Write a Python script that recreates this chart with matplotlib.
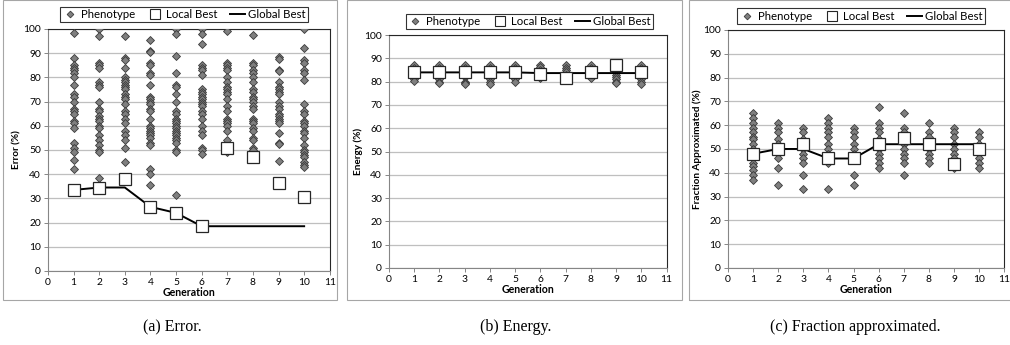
import matplotlib
matplotlib.use("Agg")
import matplotlib.pyplot as plt
from matplotlib.patches import Rectangle
from matplotlib.lines import Line2D

plt.rcParams["font.family"] = ["Lato", "DejaVu Sans"]

generations = [1, 2, 3, 4, 5, 6, 7, 8, 9, 10]

# ---- (a) Error ----
error_pheno = [
    [98.5, 88, 85, 84, 83, 82, 80, 77, 73, 72, 70, 67, 66, 65, 62, 61, 59, 53, 51, 49, 46, 42],
    [100, 97, 86, 85, 84, 78, 77, 76, 70, 67, 66, 64, 63, 62, 60, 59, 56, 54, 52, 50, 49, 38.5],
    [97, 88, 87, 84, 80, 79, 78, 77, 76, 75, 73, 72, 71, 69, 66, 65, 63, 61, 58, 56, 54, 51, 45],
    [95.5, 91, 90.5, 86, 85, 82, 81, 77, 72, 71, 70, 69, 67, 66, 63, 60, 59, 58, 57, 56, 55, 53,
     52, 42, 40, 35.5],
    [100, 98, 89, 82, 77, 76, 73, 70, 66, 65, 63, 62, 61, 60, 59, 58, 57, 56, 55, 54, 53, 50, 49, 31.5],
    [100, 98, 94, 85, 84, 83, 81, 75, 74, 73, 72, 71, 70, 69, 68, 66, 65, 63, 60, 58, 56, 51, 50, 48.5],
    [99, 86, 85, 84, 83, 80, 78, 76, 75, 74, 73, 71, 68, 66, 63, 62, 61, 60, 58, 54, 50, 49],
    [97.5, 86, 85, 83, 82, 80, 78, 75, 74, 72, 71, 70, 68, 67, 63, 62, 61, 59, 58, 55, 54, 51, 50],
    [88.5, 87.5, 83, 82.5, 78, 76, 75, 74, 73, 70, 68, 67, 65, 64, 63, 62, 61, 57, 53, 52.5, 45.5],
    [100, 92, 87, 86, 83, 82, 79, 69, 66, 65, 62, 61, 60, 58, 57, 55, 52, 50, 49, 48, 47, 45, 44, 43],
]
error_local = [33.5, 34.5, 38, 26.5, 24, 18.5, 51, 47, 36.5, 30.5]
error_global = [33.5, 34.5, 34.5, 26.5, 24, 18.5, 18.5, 18.5, 18.5, 18.5]

# ---- (b) Energy ----
energy_pheno = [
    [87, 86, 85, 84, 83, 82, 81, 80.5],
    [87, 86, 85, 83, 82, 81, 80, 79.5],
    [87, 86, 85, 83, 82, 80, 79.5, 79],
    [87, 86, 85, 83, 82, 81, 80, 79],
    [87, 86, 85, 83, 82, 81, 80],
    [87, 86.5, 85, 83, 82, 81.5],
    [87, 86, 85, 84, 83],
    [87, 86, 85, 83, 82, 81.5],
    [85, 84, 83, 82, 81, 80, 79.5],
    [87, 86, 85, 83, 82, 81, 80, 79],
]
energy_local = [84, 84, 84, 84, 84, 83.5, 81.5, 84, 87, 84]
energy_global = [84, 84, 84, 84, 84, 83.7, 83.7, 83.7, 83.7, 83.7]

# ---- (c) Fraction approximated ----
frac_pheno = [
    [65, 63, 61, 59, 57, 55, 54, 52, 50, 48, 46, 44, 43, 41, 39, 37],
    [61, 59, 57, 54, 52, 50, 48, 46, 42, 35],
    [59, 57, 54, 52, 50, 48, 46, 44, 39, 33],
    [63, 61, 59, 57, 55, 52, 50, 48, 46, 44, 33],
    [59, 57, 55, 52, 50, 48, 46, 39, 35],
    [67.5, 61, 59, 57, 54, 52, 50, 48, 46, 44, 42],
    [65, 59, 57, 54, 52, 50, 48, 46, 44, 39],
    [61, 57, 55, 52, 50, 48, 46, 44],
    [59, 57, 55, 52, 50, 48, 46, 44, 42],
    [57, 55, 52, 50, 48, 46, 44, 42],
]
frac_local = [48, 50, 52, 46, 46, 52, 54.5, 52, 43.5, 50]
frac_global = [48, 50, 50, 46, 46, 52, 52, 52, 52, 52]

ylabels = ["Error (%)", "Energy (%)", "Fraction Approximated (%)"]
captions = ["(a) Error.", "(b) Energy.", "(c) Fraction approximated."]

fig = plt.figure(figsize=(10.1, 3.45), dpi=100)

ax_rects = [
    [0.0475, 0.2145, 0.279, 0.7015],
    [0.385, 0.2232, 0.275, 0.675],
    [0.7208, 0.2232, 0.2735, 0.690],
]
panel_boxes = [(3, 337), (347, 682), (689, 1012)]
legend_boxes = [(63, 305, 7, 22), (414, 645, 13, 30), (746, 976, 7, 25)]
caption_x = [172, 516, 855]

W, H = 1010, 345
datasets = [
    (error_pheno, error_local, error_global),
    (energy_pheno, energy_local, energy_global),
    (frac_pheno, frac_local, frac_global),
]

for i, (pheno, local, glob) in enumerate(datasets):
    # gray outer frame of each excel chart
    x0, x1 = panel_boxes[i]
    fig.add_artist(Rectangle((x0 / W, 1 - 300 / H), (x1 - x0) / W, 300 / H - 0.001,
                             transform=fig.transFigure, fill=False,
                             edgecolor="#a6a6a6", lw=0.8))

    ax = fig.add_axes(ax_rects[i])
    for g, vals in zip(generations, pheno):
        ax.plot([g] * len(vals), vals, linestyle="none", marker="D", ms=3.8,
                mfc="#7f7f7f", mec="#3a3a3a", mew=0.6, zorder=3)
    ax.plot(generations, glob, color="black", lw=1.4, zorder=4)
    ax.plot(generations, local, linestyle="none", marker="s", ms=8.5,
            mfc="white", mec="#262626", mew=0.9, zorder=5)

    ax.set_xlim(0, 11)
    ax.set_ylim(0, 100)
    ax.set_xticks(range(12))
    ax.set_yticks(range(0, 101, 10))
    ax.yaxis.grid(True, color="#bfbfbf", lw=0.9)
    ax.set_axisbelow(True)
    ax.tick_params(labelsize=7.4, length=3, width=0.7, color="#868686", pad=2)
    for side in ["left", "bottom"]:
        ax.spines[side].set_color("#868686")
    for side in ["top", "right"]:
        ax.spines[side].set_color("#262626")
    ax.set_xlabel("Generation", fontsize=7.6, fontweight="bold", labelpad=0)
    ax.set_ylabel(ylabels[i], fontsize=7.2, fontweight="bold", labelpad=1)

    # legend on top of each chart
    lx0, lx1, ly0, ly1 = legend_boxes[i]
    handles = [
        Line2D([], [], linestyle="none", marker="D", ms=3.4, mfc="#7f7f7f",
               mec="#3a3a3a", mew=0.6),
        Line2D([], [], linestyle="none", marker="s", ms=7.5, mfc="white",
               mec="#262626", mew=0.8),
        Line2D([], [], color="black", lw=1.4),
    ]
    leg = fig.legend(handles, ["Phenotype", "Local Best", "Global Best"],
                     loc="center", ncol=3,
                     bbox_to_anchor=((lx0 + lx1) / 2 / W, 1 - (ly0 + ly1) / 2 / H),
                     fontsize=8.2, frameon=True, fancybox=False, handlelength=1.3,
                     handletextpad=0.3, columnspacing=1.1, borderpad=0.2)
    leg.get_frame().set_edgecolor("black")
    leg.get_frame().set_linewidth(0.8)

    fig.text(caption_x[i] / W, 1 - 327 / H, captions[i], ha="center", va="center",
             fontsize=11.5, family=["Liberation Serif", "DejaVu Serif"])

fig.savefig("out.png", dpi=100)
